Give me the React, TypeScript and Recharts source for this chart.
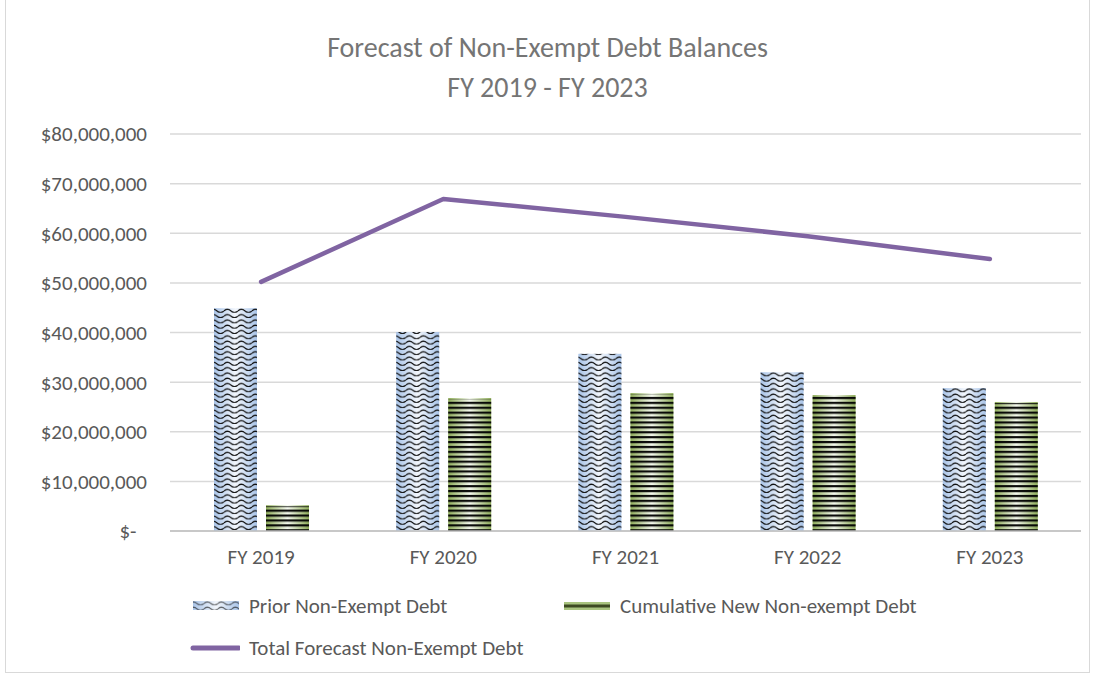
import React from 'react';
import { ComposedChart, Bar, Line, XAxis, YAxis, CartesianGrid } from 'recharts';

const categories = ['FY 2019', 'FY 2020', 'FY 2021', 'FY 2022', 'FY 2023'];
const priorDebt = [44900000, 40100000, 35700000, 32000000, 28800000];
const newDebt = [5200000, 26800000, 27800000, 27400000, 26000000];
const totalDebt = [50200000, 66900000, 63300000, 59400000, 54800000];
const yTicks = [0, 10000000, 20000000, 30000000, 40000000, 50000000, 60000000, 70000000, 80000000];
const titleLines = ['Forecast of Non-Exempt Debt Balances', 'FY 2019 - FY 2023'];
const seriesNames = ['Prior Non-Exempt Debt', 'Cumulative New Non-exempt Debt', 'Total Forecast Non-Exempt Debt'];

const data = categories.map((c, i) => ({
  name: c,
  prior: priorDebt[i],
  cum: newDebt[i],
  total: totalDebt[i],
}));

const FONT = 'Carlito, Lato, "Open Sans", sans-serif';
const TEXT = '#595959';

const Defs = ({ p }: { p: string }) => (
  <defs>
    <linearGradient id={p + 'blueGrad'} x1="0" y1="0" x2="1" y2="0">
      <stop offset="0" stopColor="#a9c4e8" />
      <stop offset="0.5" stopColor="#f2f6fc" />
      <stop offset="1" stopColor="#a9c4e8" />
    </linearGradient>
    <linearGradient id={p + 'greenGrad'} x1="0" y1="0" x2="1" y2="0">
      <stop offset="0" stopColor="#8fad5a" />
      <stop offset="0.5" stopColor="#f4f8ee" />
      <stop offset="1" stopColor="#8fad5a" />
    </linearGradient>
    <pattern id={p + 'wave'} patternUnits="userSpaceOnUse" width="14" height="5.3">
      <path d="M0 3.5 Q3.5 0.6 7 3.5 T14 3.5" stroke="#111" strokeWidth="1.2" fill="none" />
    </pattern>
    <pattern id={p + 'stripes'} patternUnits="userSpaceOnUse" width="10" height="4.9">
      <rect x="0" y="0" width="10" height="2.2" fill="#000" />
    </pattern>
  </defs>
);

const PriorShape = (props: any) => {
  const { x, y, width, height } = props;
  if (!height || height <= 0) return null;
  return (
    <g>
      <rect x={x} y={y} width={width} height={height} fill="url(#cblueGrad)" />
      <rect x={x} y={y} width={width} height={height} fill="url(#cwave)" />
    </g>
  );
};

const NewShape = (props: any) => {
  const { x, y, width, height } = props;
  if (!height || height <= 0) return null;
  return (
    <g>
      <rect x={x} y={y} width={width} height={height} fill="url(#cgreenGrad)" />
      <rect x={x} y={y + 1} width={width} height={height - 1} fill="url(#cstripes)" opacity={0.95} />
    </g>
  );
};

const fmt = (v: number) => (v === 0 ? '$-\u2002' : '$' + v.toLocaleString('en-US'));

const LegendItem = ({ kind, label, left, top }: { kind: number; label: string; left: number; top: number }) => (
  <div style={{ position: 'absolute', left, top, display: 'flex', alignItems: 'center', fontFamily: FONT, fontSize: 21, color: TEXT, whiteSpace: 'nowrap' }}>
    <svg width={50} height={12} style={{ marginRight: 9 }}>
      <Defs p={'l' + kind} />
      {kind === 0 && (
        <g>
          <rect x={3} y={1} width={46} height={9} fill={'url(#l0blueGrad)'} />
          <rect x={3} y={1} width={46} height={9} fill={'url(#l0wave)'} opacity={0.6} />
        </g>
      )}
      {kind === 1 && (
        <g>
          <rect x={3} y={2} width={46} height={8} fill="#a9c47f" />
          <rect x={3} y={4.5} width={46} height={3} fill="#3d4a22" />
        </g>
      )}
      {kind === 2 && <line x1={3} y1={6} x2={49} y2={6} stroke="#8064a2" strokeWidth={5} strokeLinecap="round" />}
    </svg>
    <span>{label}</span>
  </div>
);

export default function App() {
  return (
    <div style={{ position: 'absolute', left: 0, top: 0, width: 1095, height: 677, background: '#fff', overflow: 'hidden' }}>
      <div style={{ position: 'absolute', left: 5, top: -2, width: 1085, height: 675, border: '1.5px solid #d9d9d9', boxSizing: 'border-box' }} />
      <div style={{ position: 'absolute', left: 0, top: 28, width: 1095, textAlign: 'center', fontFamily: FONT, fontSize: 28, color: '#757575', lineHeight: '40px' }}>
        {titleLines.map((t) => (
          <div key={t}>{t}</div>
        ))}
      </div>
      <div style={{ position: 'absolute', left: 0, top: 0 }}>
        <ComposedChart
          width={1095}
          height={677}
          data={data}
          margin={{ top: 134, right: 14, bottom: 106, left: 0 }}
          barCategoryGap={44}
          barGap={9}
        >
          <Defs p="c" />
          <CartesianGrid vertical={false} stroke="#d9d9d9" strokeWidth={1.5} />
          <XAxis
            dataKey="name"
            axisLine={{ stroke: '#bfbfbf', strokeWidth: 1.5 }}
            tickLine={false}
            tickMargin={12}
            tick={{ fill: TEXT, fontSize: 21, fontFamily: FONT }}
            height={40}
          />
          <YAxis
            width={170}
            domain={[0, 80000000]}
            ticks={yTicks}
            axisLine={false}
            tickLine={false}
            tickMargin={17}
            tickFormatter={fmt}
            tick={{ fill: TEXT, fontSize: 21, fontFamily: FONT }}
          />
          <Bar dataKey="prior" name={seriesNames[0]} shape={PriorShape} isAnimationActive={false} />
          <Bar dataKey="cum" name={seriesNames[1]} shape={NewShape} isAnimationActive={false} />
          <Line
            dataKey="total"
            name={seriesNames[2]}
            stroke="#8064a2"
            strokeWidth={4.5}
            strokeLinecap="round"
            strokeLinejoin="round"
            dot={false}
            activeDot={false}
            isAnimationActive={false}
          />
        </ComposedChart>
      </div>
      <LegendItem kind={0} label={seriesNames[0]} left={190} top={593} />
      <LegendItem kind={1} label={seriesNames[1]} left={561} top={593} />
      <LegendItem kind={2} label={seriesNames[2]} left={190} top={635} />
    </div>
  );
}
